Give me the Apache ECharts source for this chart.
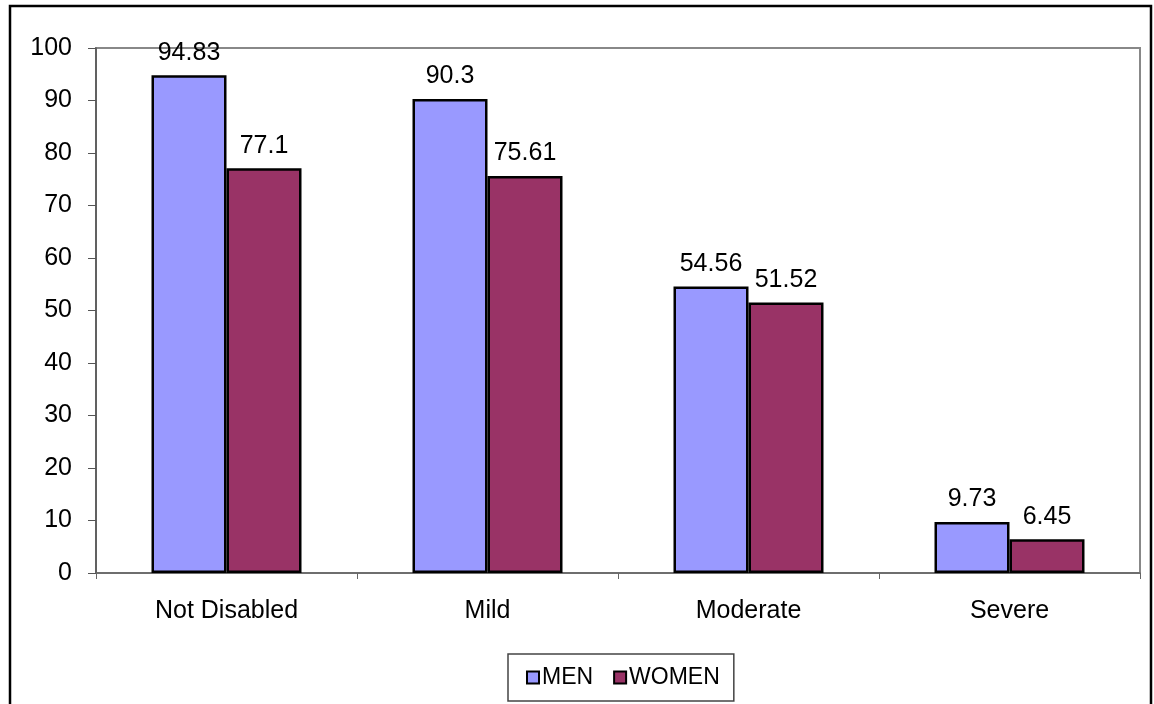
<!DOCTYPE html>
<html>
<head>
<meta charset="utf-8">
<script src="https://cdn.jsdelivr.net/npm/echarts@6/dist/echarts.min.js"></script>
<style>
  html, body { margin: 0; padding: 0; background: #fff; }
  #chart { width: 1154px; height: 704px; }
</style>
</head>
<body>
<div id="chart"></div>
<script>
// Disability status groups along the x axis
const categories = ['Not Disabled', 'Mild', 'Moderate', 'Severe'];
// Percentages per group
const menValues = [94.83, 90.3, 54.56, 9.73];
const womenValues = [77.1, 75.61, 51.52, 6.45];
const seriesNames = ['MEN', 'WOMEN'];

const FONT = '"Liberation Sans", Arial, sans-serif';
const chart = echarts.init(document.getElementById('chart'), null, { renderer: 'canvas' });

const labelStyle = {
  show: true,
  position: 'top',
  distance: 10,
  color: '#000',
  fontSize: 25,
  fontFamily: FONT
};

chart.setOption({
  backgroundColor: '#fff',
  animation: false,
  graphic: [{
    type: 'rect',
    shape: { x: 10, y: 6, width: 1141, height: 720 },
    style: { fill: 'none', stroke: '#000', lineWidth: 2.5 },
    z: -1
  }],
  grid: {
    left: 96, top: 48, right: 14, bottom: 131,
    show: true,
    borderColor: '#888',
    borderWidth: 2,
    backgroundColor: 'transparent'
  },
  legend: {
    data: seriesNames,
    left: 508,
    top: 654,
    width: 226,
    padding: [12, 14, 12, 18],
    itemWidth: 12,
    itemHeight: 12,
    itemGap: 20,
    borderColor: '#444',
    borderWidth: 1.5,
    icon: 'rect',
    textStyle: { fontSize: 23, fontFamily: FONT, color: '#000', padding: [0, 0, 0, -2] }
  },
  xAxis: {
    type: 'category',
    data: categories,
    boundaryGap: true,
    axisLine: { show: true, lineStyle: { color: '#666', width: 1.5 } },
    axisTick: { show: true, length: 6, inside: false, lineStyle: { color: '#666' } },
    axisLabel: { fontSize: 25, fontFamily: FONT, color: '#000', margin: 26 },
    splitLine: { show: false }
  },
  yAxis: {
    type: 'value',
    min: 0,
    max: 100,
    interval: 10,
    axisLine: { show: true, lineStyle: { color: '#555', width: 1.5 } },
    axisTick: { show: true, length: 8, lineStyle: { color: '#555' } },
    axisLabel: { fontSize: 25, fontFamily: FONT, color: '#000', margin: 24 },
    splitLine: { show: false }
  },
  series: [
    {
      name: seriesNames[0],
      type: 'bar',
      data: menValues,
      barWidth: 75,
      barGap: '0%',
      itemStyle: { color: '#9999FF', borderColor: '#000', borderWidth: 2.5 },
      label: labelStyle
    },
    {
      name: seriesNames[1],
      type: 'bar',
      data: womenValues,
      barWidth: 75,
      barGap: '0%',
      itemStyle: { color: '#993366', borderColor: '#000', borderWidth: 2.5 },
      label: labelStyle
    }
  ]
});
</script>
</body>
</html>
